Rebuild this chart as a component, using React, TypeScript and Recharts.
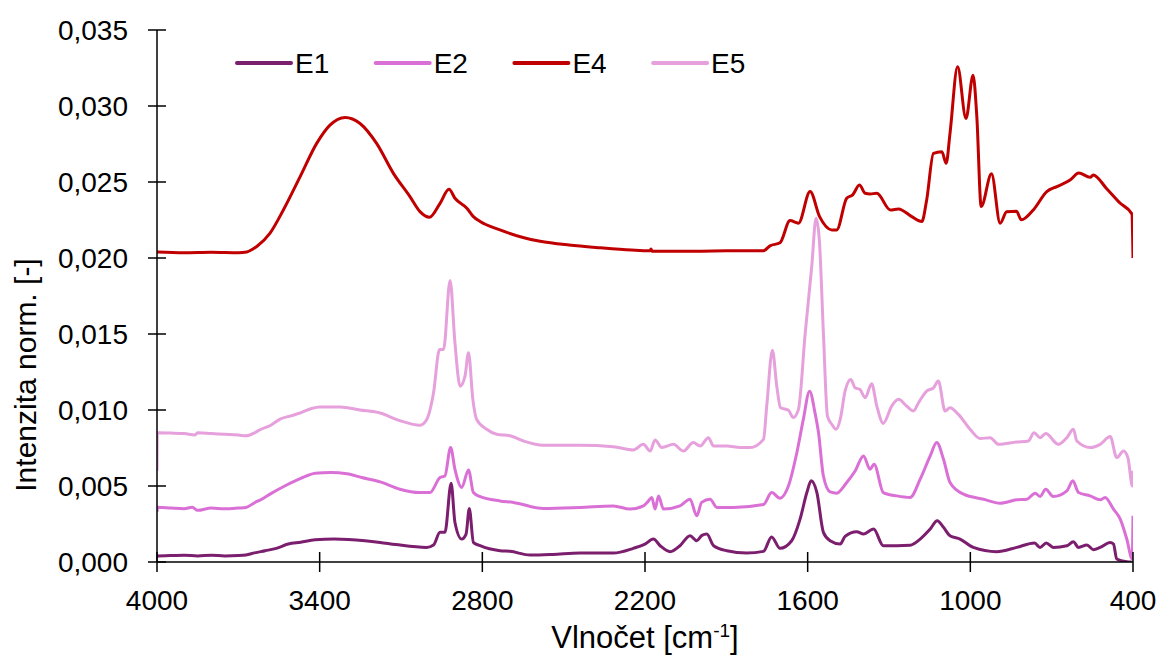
import React from "react";
import { LineChart, Line, XAxis, YAxis, Legend } from "recharts";

const FONT_STYLE = { fontFamily: "'Liberation Sans', Arial, sans-serif" } as React.CSSProperties;

const X_TICKS = [4000, 3400, 2800, 2200, 1600, 1000, 400];
const Y_TICKS = [0, 0.005, 0.01, 0.015, 0.02, 0.025, 0.03, 0.035];

// [wavenumber cm-1, normalized intensity]
const E1: [number, number][] = [
  [4000, 0.0003], [3998, 0.0004], [3950, 0.00042], [3900, 0.00045], [3850, 0.0004], [3800, 0.00045],
  [3750, 0.0004], [3700, 0.00042], [3672, 0.00046], [3640, 0.0006], [3601, 0.00074], [3560, 0.0009],
  [3516, 0.00118], [3470, 0.0013], [3417, 0.00146], [3346, 0.00151], [3233, 0.0014], [3177, 0.00129],
  [3119, 0.00115], [3006, 0.00096], [2980, 0.00112], [2956, 0.00195], [2938, 0.00195], [2915, 0.00518],
  [2901, 0.0026], [2876, 0.00151], [2860, 0.00184], [2848, 0.00352], [2833, 0.00129], [2808, 0.00107],
  [2735, 0.00074], [2698, 0.0007], [2624, 0.00046], [2540, 0.0005], [2440, 0.00059], [2317, 0.00059],
  [2243, 0.0009], [2200, 0.00118], [2169, 0.00151], [2144, 0.00107], [2107, 0.00068], [2071, 0.00107],
  [2034, 0.00173], [2009, 0.0014], [1990, 0.00175], [1972, 0.00184], [1947, 0.00107], [1898, 0.00074],
  [1825, 0.00059], [1763, 0.0007], [1733, 0.00165], [1702, 0.0009], [1659, 0.0014], [1628, 0.00282],
  [1603, 0.00457], [1587, 0.00534], [1566, 0.00457], [1542, 0.00195], [1517, 0.0014], [1480, 0.00118],
  [1462, 0.00169], [1419, 0.00199], [1394, 0.00184], [1357, 0.00217], [1321, 0.00107], [1271, 0.00107],
  [1222, 0.0011], [1185, 0.00151], [1148, 0.00217], [1122, 0.00271], [1099, 0.00228], [1075, 0.00173],
  [1038, 0.00151], [989, 0.00096], [903, 0.00068], [829, 0.00096], [763, 0.00125], [743, 0.00096],
  [720, 0.00125], [694, 0.00096], [644, 0.00107], [620, 0.00133], [601, 0.00096], [570, 0.00112],
  [546, 0.00081], [521, 0.00096], [484, 0.00129], [472, 0.00118], [460, 0.0002], [423, 0.00002],
  [410, 0.0], [405, 0.0],
];

const E2: [number, number][] = [
  [4000, 0.0033], [3998, 0.0036], [3950, 0.00355], [3900, 0.0035], [3870, 0.0036], [3850, 0.0034],
  [3800, 0.00355], [3750, 0.0035], [3700, 0.00355], [3672, 0.00359], [3640, 0.0039], [3614, 0.00413],
  [3580, 0.0045], [3529, 0.005], [3470, 0.0055], [3416, 0.00584], [3359, 0.00589], [3300, 0.0058],
  [3245, 0.00556], [3177, 0.00527], [3104, 0.00479], [3033, 0.00457], [2993, 0.00457], [2956, 0.00556],
  [2938, 0.00566], [2917, 0.00753], [2901, 0.0061], [2876, 0.0049], [2851, 0.00606], [2833, 0.00457],
  [2808, 0.0043], [2735, 0.00402], [2685, 0.00392], [2575, 0.00352], [2440, 0.00359], [2317, 0.00369],
  [2255, 0.00348], [2206, 0.00369], [2187, 0.00402], [2175, 0.00425], [2163, 0.00348], [2150, 0.00435],
  [2132, 0.00348], [2071, 0.00369], [2034, 0.00413], [2009, 0.00304], [1991, 0.00392], [1960, 0.00413],
  [1935, 0.00359], [1874, 0.00359], [1763, 0.00378], [1733, 0.00457], [1702, 0.0042], [1671, 0.005],
  [1640, 0.00719], [1616, 0.00938], [1593, 0.01124], [1573, 0.00982], [1560, 0.00851], [1542, 0.00566],
  [1517, 0.00461], [1493, 0.00453], [1456, 0.00523], [1425, 0.00599], [1394, 0.00698], [1370, 0.0061],
  [1355, 0.00643], [1321, 0.00457], [1271, 0.00435], [1222, 0.00425], [1185, 0.00545], [1148, 0.00698],
  [1124, 0.00786], [1099, 0.00676], [1075, 0.00523], [1025, 0.00446], [951, 0.00413], [890, 0.00387],
  [829, 0.00409], [792, 0.00413], [761, 0.00453], [743, 0.00431], [722, 0.00479], [694, 0.00431],
  [644, 0.00468], [622, 0.00534], [601, 0.00457], [558, 0.00435], [521, 0.00409], [503, 0.00425],
  [472, 0.00348], [447, 0.00282], [423, 0.00151], [403, 0.0002], [400, 0.00304],
];

const E4: [number, number][] = [
  [4000, 0.0204], [3900, 0.02035], [3800, 0.02038], [3700, 0.02035], [3669, 0.0204], [3632, 0.02076],
  [3583, 0.02164], [3534, 0.02316], [3472, 0.02535], [3411, 0.02754], [3362, 0.02874], [3306, 0.02925],
  [3251, 0.02885], [3190, 0.02754], [3128, 0.02557], [3067, 0.02404], [3030, 0.02305], [2995, 0.02268],
  [2956, 0.0236], [2923, 0.02452], [2901, 0.02393], [2857, 0.02328], [2833, 0.02272], [2808, 0.0224],
  [2735, 0.02185], [2650, 0.02135], [2587, 0.0211], [2480, 0.02085], [2366, 0.02067], [2250, 0.02052],
  [2181, 0.02047], [2178, 0.0206], [2174, 0.02045], [2100, 0.02045], [2000, 0.02045], [1900, 0.02047],
  [1764, 0.02047], [1739, 0.0208], [1702, 0.021], [1665, 0.02246], [1634, 0.02229], [1591, 0.02437],
  [1556, 0.02272], [1511, 0.02185], [1493, 0.02185], [1456, 0.02393], [1434, 0.02415], [1409, 0.0248],
  [1388, 0.02426], [1370, 0.02421], [1345, 0.02426], [1295, 0.02316], [1265, 0.02323], [1216, 0.02272],
  [1179, 0.0224], [1161, 0.02382], [1136, 0.02688], [1105, 0.02699], [1089, 0.02623], [1075, 0.0282],
  [1047, 0.03259], [1016, 0.02918], [990, 0.03202], [976, 0.02929], [960, 0.02338], [922, 0.02555],
  [890, 0.02229], [866, 0.02305], [830, 0.02308], [812, 0.02251], [767, 0.02318], [718, 0.02437],
  [681, 0.0247], [632, 0.02513], [600, 0.02559], [558, 0.02531], [547, 0.02546], [497, 0.02456],
  [447, 0.0236], [404, 0.0229], [400, 0.02],
];

const E5: [number, number][] = [
  [4000, 0.006], [3999, 0.0085], [3950, 0.00848], [3900, 0.00845], [3860, 0.00835], [3850, 0.0085],
  [3800, 0.00845], [3750, 0.0084], [3700, 0.00835], [3672, 0.0083], [3640, 0.0085], [3620, 0.0087],
  [3580, 0.009], [3546, 0.0094], [3510, 0.0096], [3472, 0.0098], [3430, 0.0101], [3399, 0.0102],
  [3325, 0.0102], [3251, 0.01], [3177, 0.0098], [3104, 0.0093], [3030, 0.009], [3005, 0.00938],
  [2980, 0.01113], [2958, 0.01398], [2943, 0.01398], [2919, 0.01852], [2901, 0.01442], [2882, 0.01157],
  [2864, 0.01223], [2851, 0.01376], [2835, 0.0107], [2821, 0.00938], [2784, 0.00873], [2747, 0.0084],
  [2698, 0.00831], [2648, 0.00796], [2575, 0.00768], [2440, 0.00768], [2317, 0.00759], [2243, 0.00737],
  [2206, 0.00774], [2181, 0.0073], [2163, 0.00803], [2138, 0.00753], [2095, 0.00774], [2058, 0.0073],
  [2022, 0.00786], [1997, 0.00763], [1966, 0.00818], [1947, 0.00763], [1898, 0.00763], [1849, 0.00753],
  [1812, 0.00753], [1763, 0.00807], [1751, 0.01026], [1730, 0.01393], [1714, 0.01157], [1700, 0.01015],
  [1671, 0.00999], [1653, 0.0095], [1634, 0.01004], [1609, 0.01507], [1585, 0.01944], [1569, 0.02262],
  [1557, 0.0212], [1542, 0.01507], [1527, 0.0096], [1511, 0.00906], [1495, 0.00873], [1480, 0.00938],
  [1462, 0.01124], [1441, 0.01201], [1425, 0.01146], [1407, 0.01135], [1388, 0.01081], [1364, 0.01173],
  [1345, 0.01026], [1321, 0.00912], [1290, 0.01026], [1265, 0.0107], [1235, 0.01026], [1210, 0.00993],
  [1191, 0.01048], [1161, 0.01124], [1136, 0.01146], [1118, 0.0119], [1093, 0.00993], [1075, 0.01015],
  [1044, 0.00971], [1001, 0.00873], [964, 0.00812], [927, 0.00818], [896, 0.00774], [829, 0.00789],
  [786, 0.00796], [765, 0.00851], [743, 0.00818], [722, 0.00845], [675, 0.00774], [644, 0.00818],
  [620, 0.00873], [607, 0.00796], [558, 0.00753], [521, 0.00774], [484, 0.00825], [460, 0.00687],
  [435, 0.0073], [419, 0.00687], [402, 0.005], [400, 0.006],
];

const SERIES_NAMES = ["E1", "E2", "E4", "E5"];
const SERIES_COLORS = ["#7B1E6E", "#DA70D6", "#C00000", "#E6A0DC"];
const SERIES_DATA = [E1, E2, E4, E5];

const toRows = (pairs: [number, number][]) => pairs.map(([w, v]) => ({ w, v }));

const XTick = (props: any) => {
  const { x, y, payload } = props;
  return (
    <g>
      <line x1={x} x2={x} y1={y - 10} y2={y + 10} stroke="#000" strokeWidth={1.5} />
      <text x={x} y={y + 48} textAnchor="middle" fontSize={28} style={FONT_STYLE} fill="#000">
        {payload.value}
      </text>
    </g>
  );
};

const YTick = (props: any) => {
  const { x, y, payload } = props;
  return (
    <g>
      <line x1={x - 9} x2={x + 9} y1={y} y2={y} stroke="#000" strokeWidth={1.5} />
      <text x={x - 29} y={y + 10} textAnchor="end" fontSize={28} style={FONT_STYLE} fill="#000">
        {Number(payload.value).toFixed(3).replace(".", ",")}
      </text>
    </g>
  );
};

const XTitle = () => (
  <text x={645} y={648} textAnchor="middle" fontSize={31} style={FONT_STYLE} fill="#000">
    <tspan>Vlnočet [cm</tspan>
    <tspan dy={-11} fontSize={19}>-1</tspan>
    <tspan dy={11}>]</tspan>
  </text>
);

const YTitle = () => (
  <text
    x={36}
    y={375}
    transform="rotate(-90 36 375)"
    textAnchor="middle"
    fontSize={30}
    style={FONT_STYLE}
    fill="#000"
  >
    Intenzita norm. [-]
  </text>
);

const LegendContent = () => (
  <svg width={1160} height={100} style={{ position: "absolute", left: 0, top: 0, overflow: "visible" }}>
    {SERIES_NAMES.map((n, i) => {
      const x0 = 237 + i * 138.7;
      return (
        <g key={n}>
          <line x1={x0} x2={x0 + 54} y1={63} y2={63} stroke={SERIES_COLORS[i]} strokeWidth={4} strokeLinecap="round" />
          <text x={x0 + 58} y={73} fontSize={28} style={FONT_STYLE} fill="#000">
            {n}
          </text>
        </g>
      );
    })}
  </svg>
);

export default function App() {
  return (
    <div style={{ position: "absolute", left: 0, top: 0, width: 1160, height: 659, background: "#fff" }}>
      <LineChart width={1160} height={659} margin={{ top: 30, right: 27, bottom: 27, left: 67 }}>
        <XAxis
          type="number"
          dataKey="w"
          domain={[400, 4000]}
          reversed
          ticks={X_TICKS}
          interval={0}
          allowDataOverflow
          height={70}
          tickSize={0}
          tickMargin={0}
          tickLine={false}
          axisLine={{ stroke: "#000", strokeWidth: 1.5 }}
          tick={<XTick />}
          label={() => <XTitle />}
        />
        <YAxis
          type="number"
          domain={[0, 0.035]}
          ticks={Y_TICKS}
          interval={0}
          allowDataOverflow
          width={90}
          tickSize={0}
          tickMargin={0}
          tickLine={false}
          axisLine={{ stroke: "#000", strokeWidth: 1.5 }}
          tick={<YTick />}
          label={() => <YTitle />}
        />
        <Legend
          verticalAlign="top"
          content={() => <LegendContent />}
          wrapperStyle={{ position: "absolute", left: 0, top: 0, width: 1160, height: 0 }}
        />
        {SERIES_NAMES.map((n, i) => (
          <Line
            key={n}
            name={n}
            data={toRows(SERIES_DATA[i])}
            dataKey="v"
            type="monotone"
            stroke={SERIES_COLORS[i]}
            strokeWidth={3}
            dot={false}
            activeDot={false}
            isAnimationActive={false}
          />
        ))}
      </LineChart>
    </div>
  );
}
